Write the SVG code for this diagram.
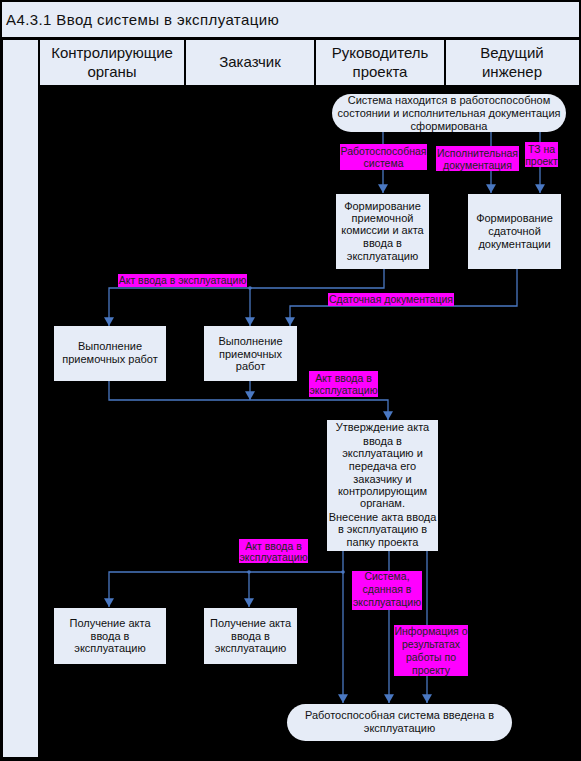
<svg xmlns="http://www.w3.org/2000/svg" width="581" height="761" viewBox="0 0 581 761">
<style>
.pane{fill:#E6ECF7}
.node{fill:#E6ECF7}
.hdr{font-family:"Liberation Sans",Arial,sans-serif;font-size:15px;fill:#111;text-anchor:middle}
.ttl{font-family:"Liberation Sans",Arial,sans-serif;font-size:15px;fill:#111;letter-spacing:0.4px}
.t{font-family:"Liberation Sans",Arial,sans-serif;font-size:11px;fill:#111;text-anchor:middle}
.lbl{fill:#FF00FF}
.lt{font-family:"Liberation Sans",Arial,sans-serif;font-size:10.5px;fill:#222;text-anchor:middle}
.c{fill:none;stroke:#4A78C2;stroke-width:1.3}
</style>
<defs>
<marker id="ah" markerUnits="userSpaceOnUse" markerWidth="10" markerHeight="10" refX="7" refY="4" orient="auto" viewBox="0 0 8 8">
<path d="M0,0 L7,4 L0,8 z" fill="#4A78C2"/>
</marker>
</defs>
<rect x="0" y="0" width="581" height="761" fill="#000"/>
<rect class="pane" x="2" y="2" width="577" height="35"/>
<text class="ttl" x="6" y="25">A4.3.1 Ввод системы в эксплуатацию</text>
<rect class="pane" x="3" y="40" width="35" height="717"/>
<g id="lanes">
<rect class="pane" x="40" y="40" width="144" height="45"/>
<text class="hdr" x="112" y="58">Контролирующие</text>
<text class="hdr" x="112" y="77">органы</text>
<rect class="pane" x="186" y="40" width="128" height="45"/>
<text class="hdr" x="250" y="67">Заказчик</text>
<rect class="pane" x="316" y="40" width="128" height="45"/>
<text class="hdr" x="380" y="58">Руководитель</text>
<text class="hdr" x="380" y="77">проекта</text>
<rect class="pane" x="446" y="40" width="133" height="45"/>
<text class="hdr" x="512" y="58">Ведущий</text>
<text class="hdr" x="512" y="77">инженер</text>
</g>
<g id="connectors">
<path class="c" d="M383,132 V193" marker-end="url(#ah)"/>
<path class="c" d="M491,132 V193" marker-end="url(#ah)"/>
<path class="c" d="M540,132 V193" marker-end="url(#ah)"/>
<path class="c" d="M384,269 V288 H109 V326" marker-end="url(#ah)"/>
<path class="c" d="M250,288 V326" marker-end="url(#ah)"/>
<circle cx="250" cy="288" r="1.8" fill="#4A78C2"/>
<path class="c" d="M517,269 V306 H290 V326" marker-end="url(#ah)"/>
<path class="c" d="M109,381 V400 H388 V420" marker-end="url(#ah)"/>
<path class="c" d="M250,381 V400" marker-end="url(#ah)"/>
<path class="c" d="M343,551 V703" marker-end="url(#ah)"/>
<path class="c" d="M343,572 H109 V607" marker-end="url(#ah)"/>
<path class="c" d="M249,572 V607" marker-end="url(#ah)"/>
<circle cx="249" cy="572" r="1.8" fill="#4A78C2"/>
<circle cx="343" cy="572" r="1.8" fill="#4A78C2"/>
<path class="c" d="M389,551 V703" marker-end="url(#ah)"/>
<path class="c" d="M427,551 V703" marker-end="url(#ah)"/>
</g>
<g id="labels">
<rect class="lbl" x="340" y="144" width="87" height="26"/>
<text class="lt" x="383.5" y="155">Работоспособная</text>
<text class="lt" x="383.5" y="167">система</text>
<rect class="lbl" x="436" y="146" width="83" height="25"/>
<text class="lt" x="477.5" y="157">Исполнительная</text>
<text class="lt" x="477.5" y="169">документация</text>
<rect class="lbl" x="525" y="142" width="33" height="25"/>
<text class="lt" x="541.5" y="153">ТЗ на</text>
<text class="lt" x="541.5" y="165">проект</text>
<rect class="lbl" x="118" y="274" width="129" height="13"/>
<text class="lt" x="182.5" y="284">Акт ввода в эксплуатацию</text>
<rect class="lbl" x="328" y="293" width="126" height="13"/>
<text class="lt" x="391" y="303">Сдаточная документация</text>
<rect class="lbl" x="309" y="371" width="69" height="26"/>
<text class="lt" x="343.5" y="382">Акт ввода в</text>
<text class="lt" x="343.5" y="394">эксплуатацию</text>
<rect class="lbl" x="239" y="539" width="69" height="24"/>
<text class="lt" x="273.5" y="550">Акт ввода в</text>
<text class="lt" x="273.5" y="561">эксплуатацию</text>
<rect class="lbl" x="352" y="571" width="70" height="39"/>
<text class="lt" x="387" y="580">Система,</text>
<text class="lt" x="387" y="593">сданная в</text>
<text class="lt" x="387" y="606">эксплуатацию</text>
<rect class="lbl" x="394" y="625" width="74" height="51"/>
<text class="lt" x="431" y="635">Информация о</text>
<text class="lt" x="431" y="648">результатах</text>
<text class="lt" x="431" y="661">работы по</text>
<text class="lt" x="431" y="674">проекту</text>
</g>
<g id="start">
<rect class="node" x="332" y="94" width="234" height="38" rx="19"/>
<text class="t" x="449" y="104">Система находится в работоспособном</text>
<text class="t" x="449" y="117">состоянии и исполнительная документация</text>
<text class="t" x="449" y="130">сформирована</text>
</g>
<g id="formKomissii">
<rect class="node" x="336" y="194" width="93" height="75"/>
<text class="t" x="382.5" y="210">Формирование</text>
<text class="t" x="382.5" y="222">приемочной</text>
<text class="t" x="382.5" y="234">комиссии и акта</text>
<text class="t" x="382.5" y="247">ввода в</text>
<text class="t" x="382.5" y="260">эксплуатацию</text>
</g>
<g id="formSdatochnoy">
<rect class="node" x="468" y="194" width="93" height="75"/>
<text class="t" x="514.5" y="222">Формирование</text>
<text class="t" x="514.5" y="235">сдаточной</text>
<text class="t" x="514.5" y="248">документации</text>
</g>
<g id="vypolnenie1">
<rect class="node" x="54" y="326" width="112" height="55"/>
<text class="t" x="110" y="350">Выполнение</text>
<text class="t" x="110" y="363">приемочных работ</text>
</g>
<g id="vypolnenie2">
<rect class="node" x="204" y="326" width="93" height="55"/>
<text class="t" x="250.5" y="345">Выполнение</text>
<text class="t" x="250.5" y="358">приемочных</text>
<text class="t" x="250.5" y="370">работ</text>
</g>
<g id="utverzhdenie">
<rect class="node" x="327" y="420" width="111" height="131"/>
<text class="t" x="382.5" y="431">Утверждение акта</text>
<text class="t" x="382.5" y="445">ввода в</text>
<text class="t" x="382.5" y="457">эксплуатацию и</text>
<text class="t" x="382.5" y="470">передача его</text>
<text class="t" x="382.5" y="483">заказчику и</text>
<text class="t" x="382.5" y="495">контролирующим</text>
<text class="t" x="382.5" y="507">органам.</text>
<text class="t" x="382.5" y="521">Внесение акта ввода</text>
<text class="t" x="382.5" y="533">в эксплуатацию в</text>
<text class="t" x="382.5" y="546">папку проекта</text>
</g>
<g id="poluchenie1">
<rect class="node" x="54" y="608" width="112" height="56"/>
<text class="t" x="110" y="627">Получение акта</text>
<text class="t" x="110" y="640">ввода в</text>
<text class="t" x="110" y="652">эксплуатацию</text>
</g>
<g id="poluchenie2">
<rect class="node" x="204" y="608" width="93" height="56"/>
<text class="t" x="250.5" y="627">Получение акта</text>
<text class="t" x="250.5" y="640">ввода в</text>
<text class="t" x="250.5" y="652">эксплуатацию</text>
</g>
<g id="end">
<rect class="node" x="287" y="704" width="225" height="37" rx="18.5"/>
<text class="t" x="399.5" y="719">Работоспособная система введена в</text>
<text class="t" x="399.5" y="732">эксплуатацию</text>
</g>
</svg>
